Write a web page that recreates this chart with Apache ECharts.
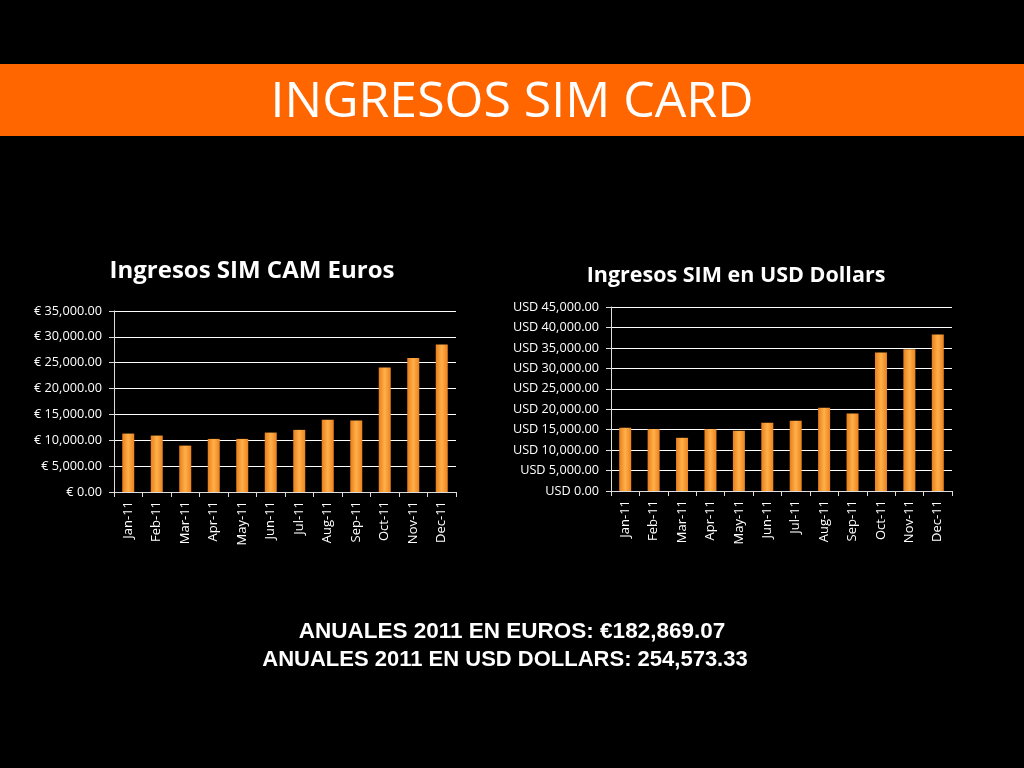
<!DOCTYPE html>
<html><head><meta charset="utf-8">
<script src="https://cdn.jsdelivr.net/npm/echarts@6/dist/echarts.min.js"></script>
<style>html,body{margin:0;padding:0;background:#000;}#c{width:1024px;height:768px;}</style>
</head><body><div id="c"></div>
<script>
const months = ['Jan-11','Feb-11','Mar-11','Apr-11','May-11','Jun-11','Jul-11','Aug-11','Sep-11','Oct-11','Nov-11','Dec-11'];
const euros = [11300,10910,8970,10270,10270,11490,12015,13950,13820,24090,25890,28540];
const usd = [15470,15140,13010,15140,14730,16690,17180,20370,18980,33870,34690,38290];
const pageTitle = 'INGRESOS SIM CARD';
const leftTitle = 'Ingresos SIM CAM Euros';
const rightTitle = 'Ingresos SIM en USD Dollars';
const totalLine1 = 'ANUALES 2011 EN EUROS: €182,869.07';
const totalLine2 = 'ANUALES 2011 EN USD DOLLARS: 254,573.33';

const fmt = v => v.toLocaleString('en-US',{minimumFractionDigits:2,maximumFractionDigits:2});
const barColor = new echarts.graphic.LinearGradient(0,0,1,0,[
  {offset:0,color:'#E87E1A'},{offset:0.5,color:'#FFB04A'},{offset:1,color:'#EC821E'}]);
const FONT = '"Open Sans", sans-serif';

const chart = echarts.init(document.getElementById('c'));
function xAx(gi){return {type:'category',gridIndex:gi,data:months,
  axisLine:{lineStyle:{color:'#ddd',width:1}},
  axisTick:{show:true,length:5,lineStyle:{color:'#ddd'}},
  axisLabel:{rotate:90,color:'#fff',fontSize:13,fontFamily:FONT,margin:9}};}
function yAx(gi,max,interval,prefix){return {type:'value',gridIndex:gi,min:0,max:max,interval:interval,
  axisLine:{show:true,lineStyle:{color:'#ddd',width:1}},
  axisTick:{show:true,length:5,lineStyle:{color:'#ddd'}},
  splitLine:{lineStyle:{color:'#fff',width:1}},
  axisLabel:{color:'#fff',fontSize:12.7,fontFamily:FONT,margin:12,formatter:v=>prefix+fmt(v)}};}

chart.setOption({
  backgroundColor:'#000',
  animation:false,
  graphic:[
    {type:'rect',shape:{x:0,y:64,width:1024,height:72},style:{fill:'#FF6600'},z:0},
    {type:'text',x:512,y:103,style:{text:pageTitle,fill:'#fff',font:'50px '+FONT,align:'center',verticalAlign:'middle'},z:1},
    {type:'text',x:252,y:271,style:{text:leftTitle,fill:'#fff',font:'bold 24px '+FONT,align:'center',verticalAlign:'middle'}},
    {type:'text',x:736,y:276,style:{text:rightTitle,fill:'#fff',font:'bold 21.5px '+FONT,align:'center',verticalAlign:'middle'}},
    {type:'text',x:512,y:632,style:{text:totalLine1,fill:'#fff',font:'bold 22.5px "Liberation Sans", Arial, sans-serif',align:'center',verticalAlign:'middle'}},
    {type:'text',x:505,y:660,style:{text:totalLine2,fill:'#fff',font:'bold 22px "Liberation Sans", Arial, sans-serif',align:'center',verticalAlign:'middle'}}
  ],
  grid:[
    {left:114,width:342,top:311,height:181},
    {left:611,width:341,top:307,height:184}
  ],
  xAxis:[xAx(0),xAx(1)],
  yAxis:[yAx(0,35000,5000,'€ '),yAx(1,45000,5000,'USD ')],
  series:[
    {type:'bar',xAxisIndex:0,yAxisIndex:0,data:euros,barWidth:12,itemStyle:{color:barColor}},
    {type:'bar',xAxisIndex:1,yAxisIndex:1,data:usd,barWidth:12,itemStyle:{color:barColor}}
  ]
});
</script></body></html>
